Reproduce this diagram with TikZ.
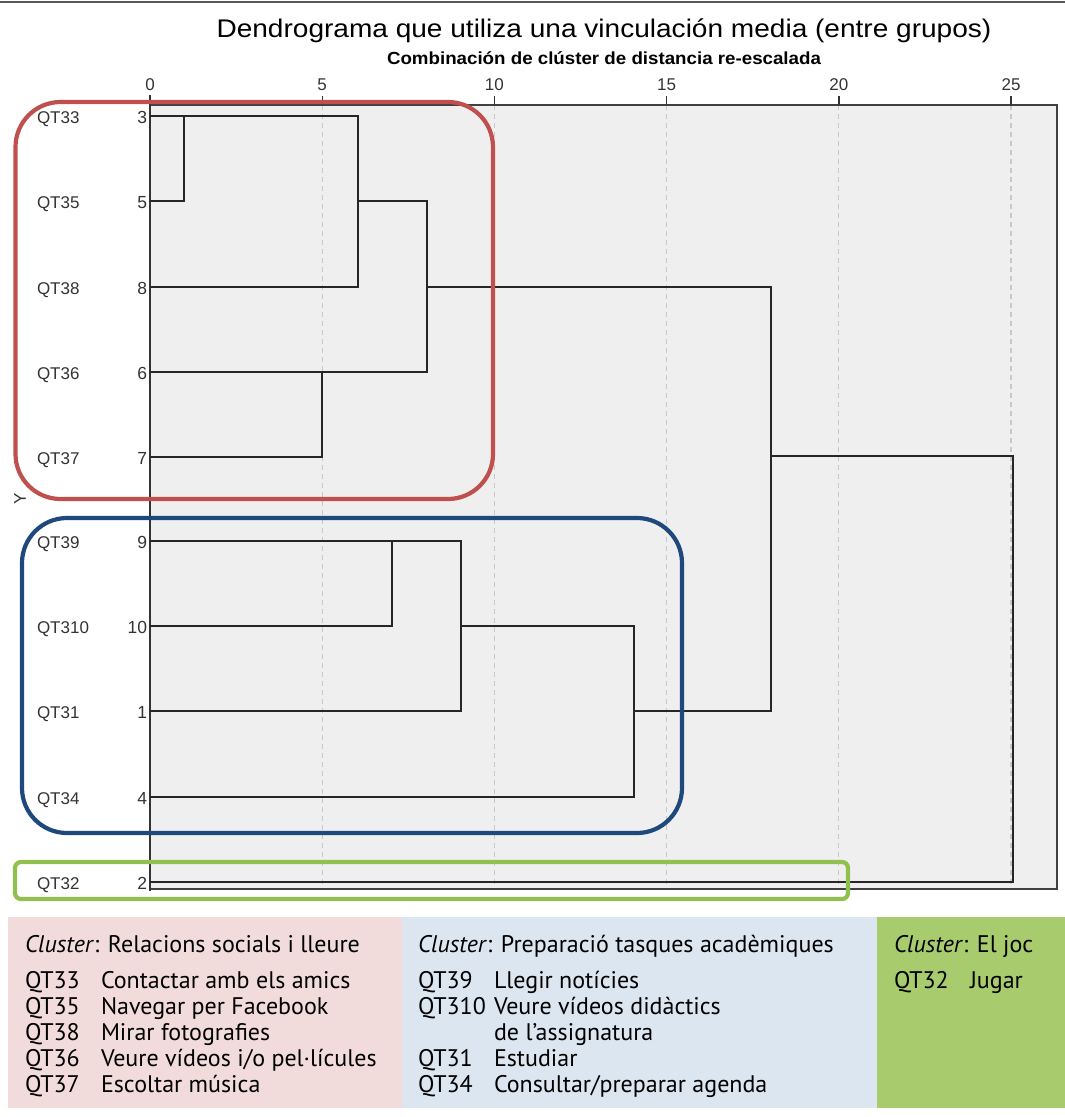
\documentclass[tikz,border=0pt]{standalone}
\usepackage{fontspec}
\setmainfont{Liberation Sans}
\newfontfamily\dinfont{PT Sans}
\definecolor{plotbg}{HTML}{EFEFEF}
\definecolor{gridgray}{HTML}{C8C8C8}
\definecolor{redbox}{HTML}{C0504D}
\definecolor{bluebox}{HTML}{1F497D}
\definecolor{greenbox}{HTML}{92C050}
\definecolor{pinkpanel}{HTML}{F2DCDB}
\definecolor{bluepanel}{HTML}{DCE6F1}
\definecolor{greenpanel}{HTML}{A8CB6E}
\begin{document}
\begin{tikzpicture}[x=1pt,y=-1pt,
  txt/.style={inner sep=0pt, outer sep=0pt},
  rowlab/.style={txt, anchor=base west, text=black!80, font=\fontsize{17}{20}\selectfont},
  numlab/.style={txt, anchor=base east, text=black!80, font=\fontsize{17.5}{20}\selectfont},
  ticklab/.style={txt, anchor=base, text=black!80, font=\fontsize{17}{20}\selectfont},
  dend/.style={draw=black!85, line width=1.7pt},
  gridln/.style={draw=gridgray, line width=1.1pt, dash pattern=on 5pt off 4pt},
  clusterbox/.style={line width=4.2pt, rounded corners=#1},
  legtxt/.style={txt, anchor=base west, font=\dinfont\fontsize{24}{26}\selectfont}
]
\useasboundingbox (0,0) rectangle (1065,1117);

% rule at the top
\draw[draw=black!65, line width=2pt] (0,1.5) -- (1065,1.5);

% titles
\node[txt, anchor=base] (title) at (604,37)
  {\scalebox{1.10}[1]{\fontsize{25.5}{30}\selectfont Dendrograma que utiliza una vinculación media (entre grupos)}};
\node[txt, anchor=base] (subtitle) at (604,64)
  {\scalebox{1.07}[1]{\fontsize{17.5}{21}\selectfont\bfseries Combinación de clúster de distancia re-escalada}};

% plot area
\fill[plotbg] (150,105) rectangle (1057,889);
\foreach \v in {5,10,15,20,25}
  \draw[gridln] ({150+34.44*\v},105) -- ({150+34.44*\v},889);
\draw[draw=black!75, line width=1.4pt] (150,105) -- (1057,105) -- (1057,889) -- (150,889);
\draw[draw=black!80, line width=2pt] (150,95) -- (150,891);
\foreach \v in {0,5,10,15,20,25} {
  \draw[draw=black!80, line width=1.4pt] ({150+34.44*\v},96) -- ({150+34.44*\v},105);
  \node[ticklab] (tick\v) at ({150+34.44*\v},90) {\v};
}

% leaves: case number, label, row position
\foreach \n/\lab/\yy in {3/QT33/116, 5/QT35/201, 8/QT38/287, 6/QT36/372, 7/QT37/457,
                         9/QT39/541, 10/QT310/626, 1/QT31/711, 4/QT34/797, 2/QT32/882} {
  \coordinate (L\n) at (150,\yy);
  \node[rowlab] (lab\n) at (37,\yy+7) {\lab};
  \node[numlab] (num\n) at (147,\yy+7) {\n};
}
\node[txt, rotate=90, font=\fontsize{17}{20}\selectfont, text=black!80] (yaxis) at (20,499) {Y};

% merge points
\coordinate (m35)  at (184,116);
\coordinate (a1)   at (358,116);
\coordinate (a2)   at (358,287);
\coordinate (a3)   at (358,201);
\coordinate (b1)   at (427,201);
\coordinate (b2)   at (427,372);
\coordinate (b3)   at (427,287);
\coordinate (c1)   at (322,372);
\coordinate (e1)   at (461,541);
\coordinate (e2)   at (461,711);
\coordinate (e3)   at (461,626);
\coordinate (f1)   at (392,541);
\coordinate (g1)   at (634,626);
\coordinate (g2)   at (634,797);
\coordinate (g3)   at (634,711);
\coordinate (t1)   at (771,287);
\coordinate (t2)   at (771,711);
\coordinate (t3)   at (771,456);
\coordinate (u1)   at (1013,456);
\coordinate (u2)   at (1013,882);

% dendrogram
\draw[dend] (L5) -| (m35);
\draw[dend] (L3) -- (a1) -- (a2) -- (L8);
\draw[dend] (a3) -- (b1) -- (b2) -- (L6);
\draw[dend] (L7) -| (c1);
\draw[dend] (L10) -| (f1);
\draw[dend] (L9) -- (e1) -- (e2) -- (L1);
\draw[dend] (e3) -- (g1) -- (g2) -- (L4);
\draw[dend] (b3) -- (t1) -- (t2) -- (g3);
\draw[dend] (t3) -- (u1) -- (u2) -- (L2);

% cluster outlines
\draw[clusterbox=45pt, draw=redbox] (15.5,102) rectangle (493,499);
\draw[clusterbox=45pt, draw=bluebox] (22,518) rectangle (682,833);
\draw[clusterbox=6pt, draw=greenbox] (15,862) rectangle (848,899);

% legend panels
\fill[pinkpanel]  (8,917) rectangle (402,1108);
\fill[bluepanel]  (402,917) rectangle (877,1108);
\fill[greenpanel] (877,917) rectangle (1065,1108);

\node[legtxt] (h1) at (25,952) {\textit{Cluster}: Relacions socials i lleure};
\foreach \c/\d/\yy [count=\i] in {QT33/{Contactar amb els amics}/988, QT35/{Navegar per Facebook}/1014,
    QT38/{Mirar fotografies}/1040, QT36/{Veure vídeos i/o pel·lícules}/1066, QT37/{Escoltar música}/1092} {
  \node[legtxt] (pc\i) at (25,\yy) {\c};
  \node[legtxt] (pd\i) at (101,\yy) {\d};
}

\node[legtxt] (h2) at (418,952) {\textit{Cluster}: Preparació tasques acadèmiques};
\foreach \c/\d/\yy [count=\i] in {QT39/{Llegir notícies}/988, QT310/{Veure vídeos didàctics}/1014,
    {}/{de l’assignatura}/1040, QT31/{Estudiar}/1066, QT34/{Consultar/preparar agenda}/1092} {
  \node[legtxt] (bc\i) at (418,\yy) {\c};
  \node[legtxt] (bd\i) at (494,\yy) {\d};
}

\node[legtxt] (h3) at (894,952) {\textit{Cluster}: El joc};
\node[legtxt] (gc1) at (894,988) {QT32};
\node[legtxt] (gd1) at (970,988) {Jugar};
\end{tikzpicture}
\end{document}
